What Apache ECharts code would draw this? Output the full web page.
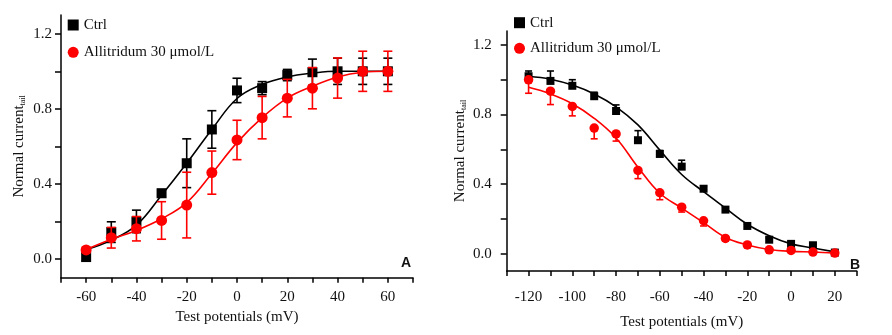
<!DOCTYPE html>
<html><head><meta charset="utf-8">
<script src="https://cdn.jsdelivr.net/npm/echarts@6/dist/echarts.min.js"></script>
<style>html,body{margin:0;padding:0;background:#fff}#c{width:892px;height:335px}</style>
</head><body><div id="c"></div>
<script>
// ---------- Panel A (activation) ----------
const vA = [-60, -50, -40, -30, -20, -10, 0, 10, 20, 30, 40, 50, 60];
const ctrlA = [0.01, 0.143, 0.20, 0.35, 0.51, 0.69, 0.898, 0.91, 0.98, 0.995, 1.0, 1.0, 1.0];
const ctrlErrA = [0.02, 0.055, 0.06, 0.02, 0.13, 0.10, 0.065, 0.035, 0.03, 0.07, 0.07, 0.07, 0.07];
const drugA = [0.048, 0.113, 0.161, 0.205, 0.287, 0.46, 0.634, 0.753, 0.857, 0.91, 0.964, 1.0, 1.0];
const drugErrA = [0.015, 0.055, 0.065, 0.10, 0.175, 0.115, 0.105, 0.113, 0.10, 0.11, 0.107, 0.107, 0.107];
const fitCtrlA = [0.05, 0.10, 0.18, 0.34, 0.51, 0.69, 0.855, 0.93, 0.97, 0.99, 1.0, 1.0, 1.0];
const fitDrugA = [0.05, 0.105, 0.152, 0.214, 0.30, 0.455, 0.62, 0.753, 0.857, 0.92, 0.97, 0.995, 1.0];

// ---------- Panel B (inactivation) ----------
const vB = [-120, -110, -100, -90, -80, -70, -60, -50, -40, -30, -20, -10, 0, 10, 20];
const ctrlB = [1.02, 0.993, 0.965, 0.905, 0.82, 0.652, 0.573, 0.5, 0.373, 0.253, 0.159, 0.08, 0.056, 0.048, 0.006];
const ctrlErrB = [0.03, 0.057, 0.035, 0.023, 0.035, 0.055, 0.02, 0.037, 0.015, 0.015, 0.01, 0.01, 0.01, 0.01, 0.005];
const drugB = [0.999, 0.934, 0.846, 0.722, 0.688, 0.478, 0.35, 0.267, 0.189, 0.087, 0.05, 0.022, 0.018, 0.009, 0.003];
const drugErrB = [0.077, 0.077, 0.054, 0.062, 0.041, 0.047, 0.04, 0.028, 0.03, 0.015, 0.015, 0.01, 0.01, 0.005, 0.005];
const fitCtrlB = [1.02, 1.003, 0.969, 0.918, 0.844, 0.74, 0.595, 0.455, 0.356, 0.262, 0.169, 0.103, 0.056, 0.032, 0.01];
const fitDrugB = [0.956, 0.918, 0.862, 0.778, 0.665, 0.497, 0.347, 0.262, 0.178, 0.093, 0.05, 0.024, 0.013, 0.009, 0.003];

// ---------- Ticks / labels ----------
const xTickA = [-70, -60, -50, -40, -30, -20, -10, 0, 10, 20, 30, 40, 50, 60, 70];
const xLabA = [-60, -40, -20, 0, 20, 40, 60];
const xTickB = [-130, -120, -110, -100, -90, -80, -70, -60, -50, -40, -30, -20, -10, 0, 10, 20, 30];
const xLabB = [-120, -100, -80, -60, -40, -20, 0, 20];
const yTick = [0, 0.2, 0.4, 0.6, 0.8, 1.0, 1.2];
const yLab = [0, 0.4, 0.8, 1.2];

const nameCtrl = 'Ctrl';
const nameDrug = 'Allitridum 30 μmol/L';
const yTitle = 'Normal current';
const ySub = 'tail';
const xTitle = 'Test potentials (mV)';

const SERIF = '"Liberation Serif", "Times New Roman", serif';
const BLACK = '#000000', RED = '#ff0000';

function errRender(mode, capW, color) {
  return function (params, api) {
    const x = api.value(0), y = api.value(1), e = api.value(2);
    const hi = mode === 'down' ? y : y + e;
    const lo = mode === 'up' ? y : y - e;
    const pH = api.coord([x, hi]), pL = api.coord([x, lo]);
    const st = { stroke: color, lineWidth: 1.6, fill: null };
    const ch = [{ type: 'line', shape: { x1: pH[0], y1: pH[1], x2: pL[0], y2: pL[1] }, style: st }];
    if (mode !== 'down') ch.push({ type: 'line', shape: { x1: pH[0] - capW / 2, y1: pH[1], x2: pH[0] + capW / 2, y2: pH[1] }, style: st });
    if (mode !== 'up') ch.push({ type: 'line', shape: { x1: pL[0] - capW / 2, y1: pL[1], x2: pL[0] + capW / 2, y2: pL[1] }, style: st });
    return { type: 'group', children: ch };
  };
}
const zip2 = (xs, ys) => xs.map((v, i) => [v, ys[i]]);
const zip3 = (xs, ys, es) => xs.map((v, i) => [v, ys[i], es[i]]);

function xAxisDef(gi, min, max, ticks, labs, margin, gap) {
  return {
    type: 'value', gridIndex: gi, min: min, max: max,
    axisLine: { show: true, onZero: false, lineStyle: { color: BLACK, width: 1.5 } },
    axisTick: { show: true, length: 5, customValues: ticks, lineStyle: { color: BLACK, width: 1.5 } },
    axisLabel: { customValues: labs, margin: margin, fontFamily: SERIF, fontSize: 15, color: '#111' },
    splitLine: { show: false },
    name: xTitle, nameLocation: 'middle', nameGap: gap,
    nameTextStyle: { fontFamily: SERIF, fontSize: 15, color: '#111' }
  };
}
function yAxisDef(gi, min, max, margin, gap) {
  return {
    type: 'value', gridIndex: gi, min: min, max: max,
    axisLine: { show: true, onZero: false, lineStyle: { color: BLACK, width: 1.5 } },
    axisTick: { show: true, length: 6, customValues: yTick, lineStyle: { color: BLACK, width: 1.5 } },
    axisLabel: { customValues: yLab, margin: margin, fontFamily: SERIF, fontSize: 15, color: '#111',
      formatter: v => Number(v).toFixed(1) },
    splitLine: { show: false },
    name: yTitle + '{s|' + ySub + '}', nameLocation: 'middle', nameGap: gap,
    nameTextStyle: { fontFamily: SERIF, fontSize: 15, color: '#111',
      rich: { s: { fontFamily: SERIF, fontSize: 8, color: '#111', verticalAlign: 'bottom', padding: [6, 0, 0, 0] } } }
  };
}

function panelSeries(idx, xs, c, ce, d, de, fc, fd, modeC, modeD, capW, sq, ci) {
  return [
    { type: 'line', name: 'fitC' + idx, xAxisIndex: idx, yAxisIndex: idx, data: zip2(xs, fc), smooth: 0.4,
      showSymbol: false, symbol: 'none', lineStyle: { color: BLACK, width: 1.6 }, z: 2, silent: true },
    { type: 'custom', name: 'errC' + idx, xAxisIndex: idx, yAxisIndex: idx, data: zip3(xs, c, ce),
      renderItem: errRender(modeC, capW, BLACK), encode: { x: 0, y: 1 }, z: 3, silent: true },
    { type: 'scatter', name: nameCtrl, xAxisIndex: idx, yAxisIndex: idx, data: zip2(xs, c), symbol: 'rect',
      symbolSize: sq, itemStyle: { color: BLACK, opacity: 1 }, z: 4, silent: true },
    { type: 'line', name: 'fitD' + idx, xAxisIndex: idx, yAxisIndex: idx, data: zip2(xs, fd), smooth: 0.4,
      showSymbol: false, symbol: 'none', lineStyle: { color: RED, width: 1.6 }, z: 5, silent: true },
    { type: 'custom', name: 'errD' + idx, xAxisIndex: idx, yAxisIndex: idx, data: zip3(xs, d, de),
      renderItem: errRender(modeD, capW, RED), encode: { x: 0, y: 1 }, z: 6, silent: true },
    { type: 'scatter', name: nameDrug, xAxisIndex: idx, yAxisIndex: idx, data: zip2(xs, d), symbol: 'circle',
      symbolSize: ci, itemStyle: { color: RED, opacity: 1 }, z: 7, silent: true }
  ];
}

const legendText = { fontFamily: SERIF, fontSize: 15, color: '#111', lineHeight: 16 };
const legendItems = [
  { name: nameCtrl, icon: 'rect', itemStyle: { color: BLACK, opacity: 1 } },
  { name: nameDrug, icon: 'circle', itemStyle: { color: RED, opacity: 1 } }
];
const option = {
  animation: false,
  backgroundColor: '#ffffff',
  grid: [
    { left: 61, top: 15, width: 352, height: 262.7, containLabel: false },
    { left: 506.7, top: 31, width: 350, height: 245.3, containLabel: false }
  ],
  xAxis: [xAxisDef(0, -70, 70, xTickA, xLabA, 12, 30), xAxisDef(1, -130, 30, xTickB, xLabB, 19, 44)],
  yAxis: [yAxisDef(0, -0.1, 1.3, 9, 34), yAxisDef(1, -0.1, 1.28, 15, 39)],
  legend: [
    { orient: 'vertical', left: 62.7, top: 12, itemWidth: 11, itemHeight: 11, itemGap: 11.3, selectedMode: false,
      textStyle: legendText, data: legendItems },
    { orient: 'vertical', left: 509, top: 9.7, itemWidth: 11, itemHeight: 11, itemGap: 9.6, selectedMode: false,
      textStyle: legendText, data: legendItems }
  ],
  graphic: [
    { type: 'text', left: 401, top: 256, style: { text: 'A', fontFamily: '"Liberation Sans", Arial, sans-serif', fontWeight: 'bold', fontSize: 14, fill: '#111' } },
    { type: 'text', left: 850, top: 258, style: { text: 'B', fontFamily: '"Liberation Sans", Arial, sans-serif', fontWeight: 'bold', fontSize: 14, fill: '#111' } }
  ],
  series: [].concat(
    panelSeries(0, vA, ctrlA, ctrlErrA, drugA, drugErrA, fitCtrlA, fitDrugA, 'both', 'both', 9, 10, 11),
    panelSeries(1, vB, ctrlB, ctrlErrB, drugB, drugErrB, fitCtrlB, fitDrugB, 'up', 'down', 7, 8, 9.5)
  )
};
const chart = echarts.init(document.getElementById('c'), null, { renderer: 'canvas' });
chart.setOption(option);
</script>
</body></html>
